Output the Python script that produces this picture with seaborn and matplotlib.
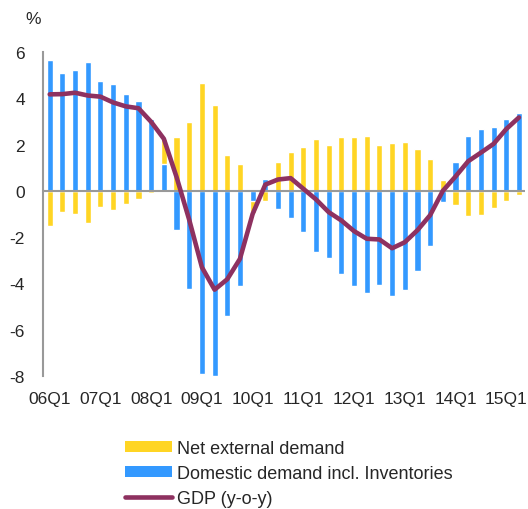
import numpy as np
import pandas as pd
import seaborn as sns
import matplotlib
matplotlib.use("Agg")
from matplotlib import pyplot as plt
from matplotlib.patches import Patch
from matplotlib.lines import Line2D

# Quarterly contributions to GDP growth (percentage points)
quarters = ['06Q1', '06Q2', '06Q3', '06Q4', '07Q1', '07Q2', '07Q3', '07Q4',
            '08Q1', '08Q2', '08Q3', '08Q4', '09Q1', '09Q2', '09Q3', '09Q4',
            '10Q1', '10Q2', '10Q3', '10Q4', '11Q1', '11Q2', '11Q3', '11Q4',
            '12Q1', '12Q2', '12Q3', '12Q4', '13Q1', '13Q2', '13Q3', '13Q4',
            '14Q1', '14Q2', '14Q3', '14Q4', '15Q1', '15Q2']
net_external = [-1.50, -0.92, -1.01, -1.41, -0.69, -0.81, -0.55, -0.35,
                -0.10, 1.08, 2.31, 2.97, 4.65, 3.72, 1.56, 1.17,
                -0.50, -0.42, 1.26, 1.70, 1.88, 2.24, 2.00, 2.31,
                2.34, 2.37, 1.99, 2.06, 2.11, 1.82, 1.37, 0.49,
                -0.61, -1.10, -1.03, -0.72, -0.43, -0.20]
domestic = [5.67, 5.11, 5.24, 5.55, 4.76, 4.63, 4.19, 3.90,
            3.09, 1.17, -1.67, -4.24, -7.92, -8.00, -5.40, -4.10,
            -0.45, 0.52, -0.78, -1.18, -1.79, -2.63, -2.92, -3.58,
            -4.10, -4.43, -4.07, -4.55, -4.30, -3.46, -2.39, -0.49,
            1.26, 2.35, 2.68, 2.76, 3.12, 3.36]
gdp = [4.17, 4.18, 4.24, 4.12, 4.07, 3.82, 3.65, 3.57,
       2.98, 2.25, 0.60, -1.25, -3.30, -4.27, -3.82, -2.94,
       -1.00, 0.27, 0.49, 0.55, 0.09, -0.37, -0.92, -1.28,
       -1.74, -2.07, -2.10, -2.48, -2.22, -1.70, -1.05, 0.00,
       0.62, 1.28, 1.65, 2.03, 2.67, 3.17]

yellow = '#FFD524'
blue = '#3399FF'
wine = '#8E3160'

sns.set_style("white")
plt.rcParams['font.family'] = ['Liberation Sans', 'DejaVu Sans']
plt.rcParams['axes.unicode_minus'] = False

df = pd.DataFrame({'Quarter': quarters, 'Net': net_external,
                   'Dom': domestic, 'GDP': gdp})
# stacked: domestic sits next to zero, net external stacked beyond when same sign
same = np.sign(df['Net']) == np.sign(df['Dom'])
df['NetStack'] = df['Net'] + np.where(same, df['Dom'], 0)

fig = plt.figure(figsize=(5.28, 5.10), dpi=100)
ax = fig.add_axes([43/528, 1-377/510, (525-43)/528, (377-53)/510])

sns.barplot(data=df, x='Quarter', y='NetStack', color=yellow, width=0.48,
            saturation=1, ax=ax, order=quarters)
sns.barplot(data=df, x='Quarter', y='Dom', color=blue, width=0.48,
            saturation=1, ax=ax, order=quarters)
sns.lineplot(x=np.arange(len(quarters)), y=df['GDP'], color=wine, lw=3.3,
             ax=ax, zorder=5)

ax.axhline(0, color='#999999', lw=1.5, zorder=4)
ax.set_ylim(-8, 6)
ax.set_xlim(-0.53, 37.48)
ax.set_yticks(range(-8, 7, 2))
ticks = [i for i, q in enumerate(quarters) if q.endswith('Q1')]
ax.set_xticks(ticks)
ax.set_xticklabels([quarters[i] for i in ticks])
ax.set_xlabel('')
ax.set_ylabel('')
ax.tick_params(axis='y', length=0, pad=13, labelsize=12.5)
ax.tick_params(axis='x', length=0, pad=11, labelsize=12.5)
for s in ['top', 'right', 'bottom']:
    ax.spines[s].set_visible(False)
ax.spines['left'].set_color('#999999')
ax.spines['left'].set_linewidth(1.5)

fig.text(33/528, 1-20/510, '%', fontsize=12.5, ha='center', va='center')

handles = [Patch(facecolor=yellow, edgecolor='none'),
           Patch(facecolor=blue, edgecolor='none'),
           Line2D([0], [0], color=wine, lw=3.3)]
labels = ['Net external demand', 'Domestic demand incl. Inventories',
          'GDP (y-o-y)']
fig.legend(handles, labels, loc='upper left', bbox_to_anchor=(125/528, 1-441/510),
           frameon=False, fontsize=13, handlelength=2.6, handleheight=0.6,
           handletextpad=0.3, labelspacing=0.44, borderpad=0, borderaxespad=0)

fig.savefig('out.png', dpi=100)
